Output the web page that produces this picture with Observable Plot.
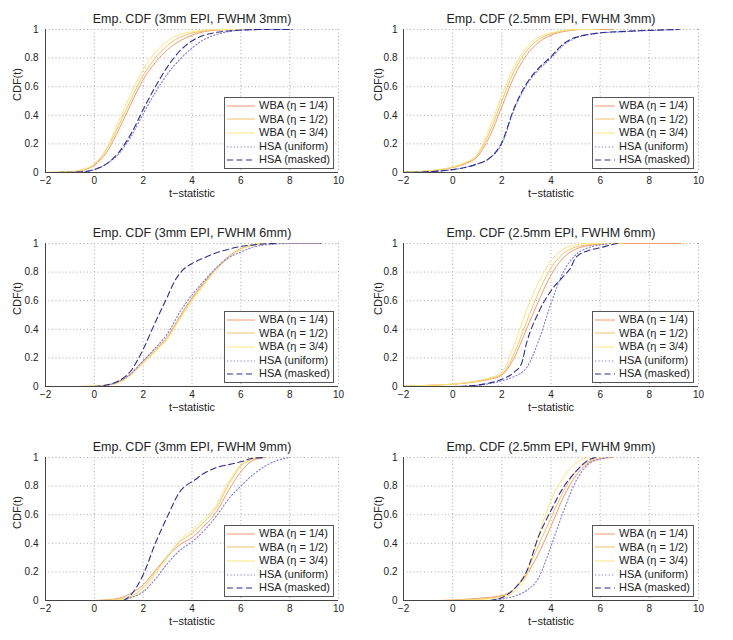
<!DOCTYPE html>
<html>
<head>
<meta charset="utf-8">
<script src="https://cdn.jsdelivr.net/npm/d3@7"></script>
<script src="https://cdn.jsdelivr.net/npm/@observablehq/plot@0.6"></script>
<style>
  html, body { margin: 0; padding: 0; background: #fff; }
  #root { position: relative; width: 733px; height: 640px; background: #fff; font-family: "Liberation Sans", Arial, sans-serif; }
  .panel { position: absolute; }
  .legend { position: absolute; background: #fff; border: 1px solid #555; padding: 1px 3px 1px 2px; font-size: 11px; color: #222; line-height: 13.6px; }
  .legend .row { display: flex; align-items: center; white-space: nowrap; }
  .legend svg { margin-right: 4px; flex: none; }
</style>
</head>
<body>
<div id="root"></div>
<script>
// ---------- data: [t, CDF(t)] ----------
const seriesNames = ["WBA (\u03b7 = 1/4)", "WBA (\u03b7 = 1/2)", "WBA (\u03b7 = 3/4)", "HSA (uniform)", "HSA (masked)"];
const titles = [
  "Emp. CDF (3mm EPI, FWHM 3mm)", "Emp. CDF (2.5mm EPI, FWHM 3mm)",
  "Emp. CDF (3mm EPI, FWHM 6mm)", "Emp. CDF (2.5mm EPI, FWHM 6mm)",
  "Emp. CDF (3mm EPI, FWHM 9mm)", "Emp. CDF (2.5mm EPI, FWHM 9mm)"
];
const xTicks = [-2, 0, 2, 4, 6, 8, 10];
const yTicks = [0, 0.2, 0.4, 0.6, 0.8, 1];

const p1_wba14 = [[-2,0],[-1,0.005],[-0.5,0.015],[0,0.05],[0.5,0.14],[1,0.3],[1.5,0.48],[2,0.65],[2.5,0.77],[3,0.86],[3.5,0.92],[4,0.96],[4.5,0.985],[5,0.995],[5.5,1],[6.5,1]];
const p1_wba12 = [[-2,0],[-1,0.005],[-0.5,0.018],[0,0.055],[0.5,0.16],[1,0.33],[1.5,0.51],[2,0.68],[2.5,0.8],[3,0.89],[3.5,0.945],[4,0.975],[4.5,0.99],[5,0.998],[5.5,1],[6.3,1]];
const p1_wba34 = [[-2,0],[-1,0.006],[-0.5,0.02],[0,0.06],[0.5,0.17],[1,0.36],[1.5,0.55],[2,0.72],[2.5,0.84],[3,0.92],[3.5,0.965],[4,0.985],[4.5,0.995],[5,1],[6,1]];
const p1_uni = [[-1.5,0],[-0.5,0.005],[0,0.02],[0.5,0.06],[1,0.13],[1.5,0.25],[2,0.41],[2.5,0.56],[3,0.69],[3.5,0.79],[4,0.87],[4.5,0.93],[5,0.965],[5.5,0.985],[6,0.995],[7,1],[8.2,1]];
const p1_msk = [[-1.5,0],[-0.5,0.005],[0,0.02],[0.5,0.06],[1,0.14],[1.5,0.27],[2,0.44],[2.5,0.6],[3,0.74],[3.5,0.85],[4,0.92],[4.5,0.96],[5,0.98],[5.5,0.99],[6,0.996],[7,1],[8,1]];

const p2_wba14 = [[-2,0.003],[-1,0.01],[0,0.035],[0.5,0.06],[1,0.11],[1.5,0.25],[2,0.46],[2.5,0.67],[3,0.82],[3.5,0.91],[4,0.96],[4.5,0.985],[5,0.997],[5.5,1],[6.5,1]];
const p2_wba12 = [[-2,0.003],[-1,0.01],[0,0.037],[0.5,0.065],[1,0.12],[1.5,0.28],[2,0.5],[2.5,0.71],[3,0.85],[3.5,0.93],[4,0.97],[4.5,0.99],[5,1],[6,1]];
const p2_wba34 = [[-2,0.003],[-1,0.012],[0,0.04],[0.5,0.07],[1,0.13],[1.5,0.31],[2,0.54],[2.5,0.74],[3,0.87],[3.5,0.945],[4,0.975],[4.5,0.993],[5,1],[5.8,1]];
const p2_uni = [[-2,0],[-1,0.006],[0,0.02],[0.5,0.035],[1,0.06],[1.5,0.1],[2,0.2],[2.5,0.44],[3,0.61],[3.5,0.72],[4,0.8],[4.5,0.89],[5,0.94],[5.5,0.963],[6,0.975],[7,0.985],[8,0.993],[9.3,1]];
const p2_msk = [[-2,0],[-1,0.005],[0,0.02],[0.5,0.035],[1,0.06],[1.5,0.1],[2,0.21],[2.5,0.45],[3,0.62],[3.5,0.73],[4,0.81],[4.5,0.9],[5,0.945],[5.5,0.965],[6,0.977],[7,0.987],[8,0.994],[9.2,1]];

const p3_wba14 = [[-0.8,0],[0,0.003],[0.5,0.01],[1,0.035],[1.5,0.09],[2,0.18],[2.5,0.26],[3,0.35],[3.5,0.49],[4,0.62],[4.5,0.73],[5,0.83],[5.5,0.91],[6,0.965],[6.5,0.99],[7,1],[9.3,1]];
const p3_wba12 = [[-0.8,0],[0,0.003],[0.5,0.01],[1,0.03],[1.5,0.085],[2,0.17],[2.5,0.25],[3,0.34],[3.5,0.48],[4,0.61],[4.5,0.72],[5,0.82],[5.5,0.9],[6,0.96],[6.5,0.99],[7,1],[8,1]];
const p3_wba34 = [[-0.5,0],[0,0.002],[0.5,0.008],[1,0.025],[1.5,0.08],[2,0.16],[2.5,0.245],[3,0.335],[3.5,0.47],[4,0.6],[4.5,0.71],[5,0.82],[5.5,0.9],[6,0.96],[6.5,0.99],[7,1],[7.5,1]];
const p3_uni = [[0,0],[0.5,0.008],[1,0.035],[1.5,0.09],[2,0.18],[2.5,0.27],[3,0.37],[3.5,0.52],[4,0.64],[4.5,0.74],[5,0.83],[5.5,0.9],[6,0.94],[6.5,0.975],[7,0.99],[8,1],[9.3,1]];
const p3_msk = [[0,0],[0.5,0.01],[1,0.04],[1.5,0.11],[2,0.26],[2.5,0.45],[3,0.63],[3.3,0.74],[3.6,0.81],[4,0.86],[4.5,0.9],[5,0.935],[5.5,0.96],[6,0.98],[6.5,0.99],[7,0.998],[7.5,1]];

const p4_wba14 = [[-2,0.002],[-1,0.008],[0,0.015],[1,0.035],[1.5,0.05],[2,0.08],[2.5,0.2],[3,0.4],[3.5,0.6],[4,0.78],[4.5,0.9],[5,0.96],[5.5,0.985],[6,0.995],[6.5,1],[9.3,1]];
const p4_wba12 = [[-2,0.002],[-1,0.008],[0,0.016],[1,0.037],[1.5,0.055],[2,0.085],[2.5,0.23],[3,0.45],[3.5,0.66],[4,0.83],[4.5,0.93],[5,0.975],[5.5,0.99],[6,1],[7,1]];
const p4_wba34 = [[-2,0.002],[-1,0.008],[0,0.017],[1,0.04],[1.5,0.06],[2,0.1],[2.5,0.29],[3,0.53],[3.5,0.73],[4,0.88],[4.5,0.96],[5,0.99],[5.5,1],[6.5,1]];
const p4_uni = [[0,0],[1,0.008],[1.5,0.02],[2,0.04],[2.5,0.07],[3,0.13],[3.5,0.32],[4,0.58],[4.5,0.8],[5,0.92],[5.5,0.97],[6,0.99],[6.5,1]];
const p4_msk = [[0.3,0],[1,0.01],[1.5,0.025],[2,0.05],[2.5,0.1],[2.8,0.16],[3,0.3],[3.5,0.52],[4,0.67],[4.5,0.77],[4.8,0.83],[5,0.9],[5.5,0.95],[6,0.97],[6.5,0.993],[6.7,1]];

const p5_wba14 = [[0,0],[0.5,0.005],[1,0.015],[1.5,0.05],[2,0.11],[2.5,0.21],[3,0.31],[3.5,0.39],[4,0.44],[4.5,0.52],[5,0.62],[5.5,0.77],[6,0.9],[6.5,0.98],[7,1]];
const p5_wba12 = [[0.3,0],[0.5,0.003],[1,0.01],[1.5,0.03],[2,0.09],[2.5,0.2],[3,0.31],[3.5,0.41],[4,0.47],[4.5,0.55],[5,0.65],[5.5,0.81],[6,0.94],[6.5,0.99],[6.8,1]];
const p5_wba34 = [[0.5,0],[1,0.006],[1.5,0.02],[2,0.07],[2.5,0.18],[3,0.3],[3.5,0.42],[4,0.49],[4.5,0.57],[5,0.67],[5.5,0.83],[6,0.95],[6.4,1]];
const p5_uni = [[1.2,0],[1.5,0.02],[2,0.06],[2.5,0.15],[3,0.26],[3.5,0.35],[4,0.41],[4.5,0.49],[5,0.59],[5.5,0.71],[6,0.8],[6.5,0.88],[7,0.94],[7.5,0.98],[8,1]];
const p5_msk = [[1.2,0],[1.5,0.04],[2,0.18],[2.5,0.4],[3,0.59],[3.5,0.76],[3.8,0.81],[4,0.83],[4.5,0.89],[5,0.93],[5.5,0.95],[6,0.97],[6.5,0.995],[7,1]];

const p6_wba14 = [[-0.5,0],[0,0.003],[1,0.015],[2,0.035],[2.5,0.08],[3,0.18],[3.5,0.33],[4,0.52],[4.5,0.72],[5,0.87],[5.5,0.96],[6,0.99],[6.5,1]];
const p6_wba12 = [[-0.5,0],[0,0.003],[1,0.01],[2,0.03],[2.5,0.08],[3,0.2],[3.5,0.39],[4,0.58],[4.5,0.76],[5,0.9],[5.5,0.97],[6,1]];
const p6_wba34 = [[0,0],[1,0.006],[2,0.02],[2.5,0.06],[3,0.17],[3.5,0.46],[4,0.7],[4.5,0.86],[5,0.96],[5.5,1]];
const p6_uni = [[1.5,0],[2,0.01],[2.5,0.03],[3,0.07],[3.5,0.16],[4,0.38],[4.5,0.62],[5,0.83],[5.5,0.95],[6,0.99],[6.3,1]];
const p6_msk = [[1.5,0],[2,0.02],[2.5,0.08],[3,0.2],[3.5,0.45],[4,0.63],[4.5,0.79],[5,0.9],[5.5,0.98],[5.8,1]];

// ---------- styles ----------
const colors = ["#f29a70", "#f0c46a", "#f9e67e", "#7c7cd8", "#2e2e8c"];
const dashes = [null, null, null, "1.2,2.2", "6,3.5"];
const widths = [1, 1, 1, 1.1, 1.1];

const panels = [
  [p1_wba14, p1_wba12, p1_wba34, p1_uni, p1_msk],
  [p2_wba14, p2_wba12, p2_wba34, p2_uni, p2_msk],
  [p3_wba14, p3_wba12, p3_wba34, p3_uni, p3_msk],
  [p4_wba14, p4_wba12, p4_wba34, p4_uni, p4_msk],
  [p5_wba14, p5_wba12, p5_wba34, p5_uni, p5_msk],
  [p6_wba14, p6_wba12, p6_wba34, p6_uni, p6_msk]
];

const root = document.getElementById("root");
const H = 214;
const colGeom = [
  {left: 0, width: 366, mL: 45, mR: 28, yLabDx: -28, tickPad: 7, sample: 28},
  {left: 366, width: 367, mL: 37, mR: 35, yLabDx: -25, tickPad: 6, sample: 20}
];

panels.forEach((series, i) => {
  const col = i % 2, row = Math.floor(i / 2);
  const g = colGeom[col];
  const marks = [
    Plot.gridX(xTicks, {stroke: "#aaa", strokeOpacity: 1, strokeDasharray: "1,2.5"}),
    Plot.gridY(yTicks, {stroke: "#aaa", strokeOpacity: 1, strokeDasharray: "1,2.5"}),
    Plot.axisX(xTicks, {tickSize: 0, tickPadding: 4, fontSize: 10, label: null, color: "#222", tickFormat: d => String(d).replace("-", "\u2212")}),
    Plot.axisY(yTicks, {tickSize: 0, tickPadding: g.tickPad, fontSize: 10, label: null, color: "#222", tickFormat: d => String(d)}),
  ];
  series.forEach((pts, s) => {
    marks.push(Plot.line(pts, {
      x: d => d[0], y: d => d[1],
      stroke: colors[s], strokeWidth: widths[s],
      strokeDasharray: dashes[s], curve: "monotone-x", clip: true
    }));
  });
  marks.push(
    Plot.ruleY([0], {stroke: "#444"}),
    Plot.ruleX([-2], {stroke: "#444"}),
    Plot.text([titles[i]], {frameAnchor: "top", lineAnchor: "middle", dy: -11, fontSize: 12.5, fill: "#222"}),
    Plot.text(["t\u2212statistic"], {frameAnchor: "bottom", lineAnchor: "middle", dy: 21, fontSize: 11, fill: "#222"}),
    Plot.text(["CDF(t)"], {frameAnchor: "left", lineAnchor: "middle", dx: g.yLabDx, rotate: -90, fontSize: 11, fill: "#222"})
  );
  const chart = Plot.plot({
    width: g.width, height: H,
    marginLeft: g.mL, marginRight: g.mR, marginTop: 29, marginBottom: 42,
    x: {domain: [-2, 10]},
    y: {domain: [0, 1]},
    style: {fontFamily: '"Liberation Sans", Arial, sans-serif', background: "transparent", overflow: "visible"},
    marks
  });
  const wrap = document.createElement("div");
  wrap.className = "panel";
  wrap.style.left = g.left + "px";
  wrap.style.top = (row * H) + "px";
  wrap.style.width = g.width + "px";
  wrap.style.height = H + "px";
  wrap.appendChild(chart);

  // legend
  const leg = document.createElement("div");
  leg.className = "legend";
  leg.style.right = (g.mR + 4) + "px";
  leg.style.bottom = (42 + 3) + "px";
  seriesNames.forEach((name, s) => {
    const r = document.createElement("div");
    r.className = "row";
    const sw = d3.create("svg").attr("width", g.sample).attr("height", 8);
    sw.append("line").attr("x1", 0).attr("x2", g.sample).attr("y1", 4).attr("y2", 4)
      .attr("stroke", colors[s]).attr("stroke-width", widths[s])
      .attr("stroke-dasharray", dashes[s]);
    r.appendChild(sw.node());
    const t = document.createElement("span");
    t.textContent = name;
    r.appendChild(t);
    leg.appendChild(r);
  });
  wrap.appendChild(leg);
  root.appendChild(wrap);
});
</script>
</body>
</html>
